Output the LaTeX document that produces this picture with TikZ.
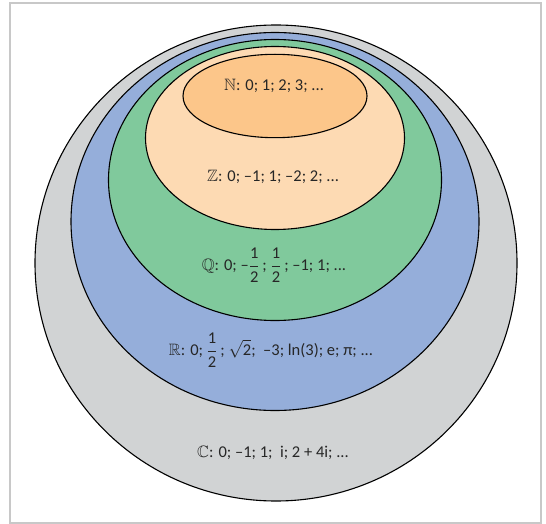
\documentclass[tikz,border=0pt]{standalone}
\usepackage{amsmath,amssymb}
\usepackage{fontspec}
\setmainfont{Carlito}
\definecolor{setC}{HTML}{D1D3D4}
\definecolor{setR}{HTML}{95AEDA}
\definecolor{setQ}{HTML}{80C99C}
\definecolor{setZ}{HTML}{FDDAB3}
\definecolor{setN}{HTML}{FCC68A}
\definecolor{framegray}{HTML}{C8C8C8}
\newcommand{\half}{\dfrac{\text{1}}{\text{2}}\,}
\begin{document}
\begin{tikzpicture}[x=1pt,y=-1pt,
  setline/.style={draw=black,line width=1.1pt},
  setlabel/.style={font=\fontsize{16.5}{19}\selectfont,text=black!85,inner sep=0pt}]
\useasboundingbox (0,0) rectangle (546,524);
% frame
\draw[framegray,line width=1.6pt] (10,3) rectangle (541,523);
% nested sets, outermost first
\filldraw[setline,fill=setC] (276,263) ellipse (241 and 238);
\filldraw[setline,fill=setR] (275,221.5) ellipse (204 and 189);
\filldraw[setline,fill=setQ] (275,180) ellipse (166.5 and 140.5);
\filldraw[setline,fill=setZ] (275,138) ellipse (129.5 and 91.5);
\filldraw[setline,fill=setN] (275,96) ellipse (92 and 41.7);
% labels
\node[setlabel] (labN) at (274,86) {$\mathbb{N}$: 0; 1; 2; 3; ...};
\node[setlabel] (labZ) at (273,177) {$\mathbb{Z}$: 0; --1; 1; --2; 2; ...};
\node[setlabel] (labQ) at (274,265) {$\mathbb{Q}$: 0; --$\half$; $\half$; --1; 1; ...};
\node[setlabel] (labR) at (271,350) {$\mathbb{R}$: 0; $\half$; $\sqrt{\text{2}}$;\ \ --3; ln(3); e; π; ...};
\node[setlabel] (labC) at (273,453) {$\mathbb{C}$: 0; --1; 1;\ \ i; 2 + 4i; ...};
\end{tikzpicture}
\end{document}
